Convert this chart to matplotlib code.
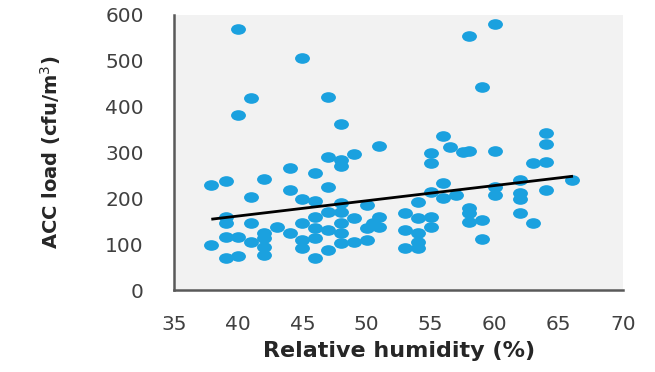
import numpy as np
import matplotlib
matplotlib.use("Agg")
import matplotlib.pyplot as plt
from matplotlib.path import Path
from matplotlib.transforms import Affine2D

# relative humidity (%) and ACC load (cfu/m3)
humidity = [37.9, 37.9,
            39, 39, 39, 39, 39,
            40, 40, 40, 40,
            41, 41, 41, 41,
            42, 42, 42, 42, 42,
            43,
            44, 44, 44,
            45, 45, 45, 45, 45,
            46, 46, 46, 46, 46, 46,
            47, 47, 47, 47, 47, 47,
            48, 48, 48, 48, 48, 48, 48, 48,
            49, 49, 49,
            50, 50, 50, 50.5,
            51, 51, 51,
            53, 53, 53,
            54, 54, 54, 54, 54,
            55, 55, 55, 55, 55,
            56, 56, 56, 56.5, 57, 57.5,
            58, 58, 58, 58, 58,
            59, 59, 59,
            60, 60, 60, 60,
            62, 62, 62, 62,
            63, 63,
            64, 64, 64, 64,
            66]
acc_load = [229, 98,
            238, 160, 146, 116, 70,
            570, 382, 116, 74,
            419, 203, 146, 105,
            242, 124, 113, 94, 76,
            138,
            266, 218, 124,
            507, 199, 146, 109, 92,
            255, 194, 160, 135, 113, 70,
            422, 290, 225, 170, 131, 87,
            362, 284, 271, 189, 170, 146, 124, 103,
            297, 157, 105,
            186, 135, 109, 146,
            315, 160, 138,
            168, 131, 92,
            192, 157, 124, 105, 92,
            299, 277, 214, 160, 138,
            336, 234, 200, 313, 207, 302,
            555, 304, 179, 168, 149,
            443, 153, 111,
            581, 304, 225, 207,
            240, 211, 199, 168,
            277, 146,
            342, 318, 279, 218,
            240]

# linear trend line ends
trend_x = [38, 66]
trend_y = [155, 248]

x_ticks = [35, 40, 45, 50, 55, 60, 65, 70]
y_ticks = [0, 100, 200, 300, 400, 500, 600]

# slightly flattened dots like in the original
circle = Path.unit_circle()
ellipse = Path(Affine2D().scale(1.4, 1.0).transform(circle.vertices), circle.codes)

fig = plt.figure(figsize=(6.55, 3.72), dpi=100)
ax = fig.add_axes([0.266, 0.220, 0.685, 0.740])
ax.set_facecolor("#f2f2f2")

ax.scatter(humidity, acc_load, s=115, marker=ellipse, color="#1ba1df", zorder=2, linewidths=0)
ax.plot(trend_x, trend_y, color="black", lw=2, zorder=3)

ax.set_xlim(35, 70)
ax.set_ylim(0, 600)
ax.set_xticks(x_ticks)
ax.set_yticks(y_ticks)

for s in ["top", "right"]:
    ax.spines[s].set_visible(False)
for s in ["left", "bottom"]:
    ax.spines[s].set_color("#595959")
    ax.spines[s].set_linewidth(1.8)

ax.tick_params(length=0, labelsize=14.5, labelcolor="#404040")
ax.tick_params(axis="x", pad=18)
ax.tick_params(axis="y", pad=22)

ax.set_xlabel("Relative humidity (%)", fontsize=16, fontweight="bold", color="#262626", labelpad=5)
ax.set_ylabel("ACC load (cfu/m$^{3}$)", fontsize=14, fontweight="bold", color="#262626", labelpad=30)

fig.savefig("out.png", dpi=100)
